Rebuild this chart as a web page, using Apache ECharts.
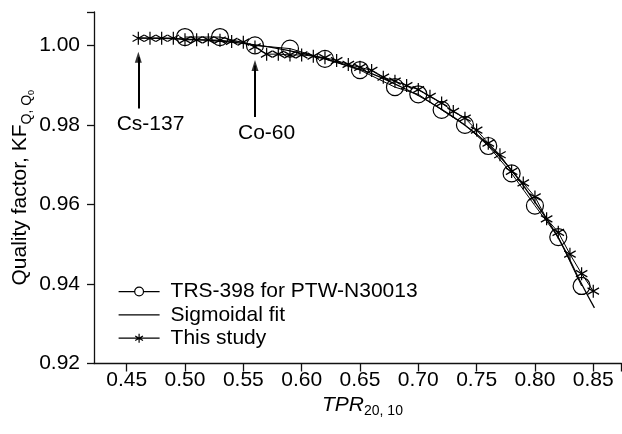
<!DOCTYPE html>
<html><head><meta charset="utf-8">
<script src="https://cdn.jsdelivr.net/npm/echarts@6/dist/echarts.min.js"></script>
<style>html,body{margin:0;padding:0;background:#fff}#chart{width:622px;height:434px}</style>
</head><body><div id="chart"></div>
<script>
// ---------- data ----------
const trsX = [0.50,0.53,0.56,0.59,0.62,0.65,0.68,0.70,0.72,0.74,0.76,0.78,0.80,0.82,0.84];
const trsY = [1.0021,1.0021,1.0000,0.9992,0.9966,0.9938,0.9895,0.9877,0.9838,0.9800,0.9747,0.9678,0.9597,0.9518,0.9395];

const studyX = [0.46,0.47,0.48,0.49,0.50,0.51,0.52,0.53,0.54,0.55,
                0.56,0.57,0.58,0.59,0.60,0.61,0.62,0.63,0.64,0.65,
                0.66,0.67,0.68,0.69,0.70,0.71,0.72,0.73,0.74,0.75,
                0.76,0.77,0.78,0.79,0.80,0.81,0.82,0.83,0.84,0.85];
const studyY = [1.0018,1.0018,1.0018,1.0018,1.0014,1.0014,1.0014,1.0013,1.0010,1.0008,
                0.9996,0.9978,0.9978,0.9976,0.9976,0.9973,0.9969,0.9962,0.9952,0.9945,
                0.9937,0.9920,0.9910,0.9899,0.9889,0.9872,0.9855,0.9834,0.9817,0.9787,
                0.9754,0.9725,0.9683,0.9654,0.9619,0.9564,0.9530,0.9475,0.9426,0.9382];

const fitX = [0.46,0.48,0.50,0.52,0.54,0.56,0.58,0.60,0.62,0.64,0.66,0.68,0.70,0.72,0.74,0.76,0.78,0.80,0.82,0.84,0.851];
const fitY = [1.0019,1.0018,1.0016,1.0013,1.0008,1.0001,0.9992,0.9980,0.9966,0.9949,0.9929,0.9903,0.9874,0.9839,0.9799,0.9750,0.9686,0.9606,0.9516,0.9400,0.9340];

const xTickLabels = [0.45,0.50,0.55,0.60,0.65,0.70,0.75,0.80,0.85];
const yTickLabels = [0.92,0.94,0.96,0.98,1.00];
const xMin = 0.422, xMax = 0.8742;
const yMin = 0.92,  yMax = 1.0084;

const arrowLabels = ['Cs-137', 'Co-60'];
const arrowX    = [0.46, 0.56];
const arrowFrom = [0.9841, 0.9820];
const arrowTo   = [0.99705, 0.99495];

const seriesNames = ['TRS-398 for PTW-N30013', 'Sigmoidal fit', 'This study'];

// ---------- helpers ----------
const FONT = "'Liberation Sans', Arial, Helvetica, sans-serif";
const ctx = document.createElement('canvas').getContext('2d');
function tw(t, size, st) { ctx.font = (st ? st + ' ' : '') + size + 'px ' + FONT; return ctx.measureText(t).width; }
function zip(a, b) { return a.map((v, i) => [v, b[i]]); }

const STAR = 'path://M0,-6 L0,6 M-5.2,-3 L5.2,3 M-5.2,3 L5.2,-3';
const ICON_TRS = 'path://M0,5 L16.1,5 M24.9,5 L41,5 M24.9,5 A4.4,4.4 0 1,1 16.1,5 A4.4,4.4 0 1,1 24.9,5';
const ICON_FIT = 'path://M0,5 L41,5 M20,1 L20,1 M20,9 L20,9';
const ICON_STAR = 'path://M0,5 L41,5 M20.5,0.5 L20.5,9.5 M16.6,2.75 L24.4,7.25 M16.6,7.25 L24.4,2.75';

// axis titles (graphic text)
const w1 = tw('Quality factor, KF', 21), w2 = tw('Q, Q', 14), w3 = tw('0', 9);
const yTitleLen = w1 + w2 + w3;
const yAxisMid = (12 + 363.5) / 2;
const tprW = tw('TPR', 21, 'italic');

const txt = (text, x, y, size, st) => ({
  type: 'text', x: x, y: y, silent: true,
  style: { text: text, font: (st ? st + ' ' : '') + size + 'px ' + FONT, fill: '#000',
           textAlign: 'left', textVerticalAlign: 'middle', align: 'left', verticalAlign: 'middle' }
});

const chart = echarts.init(document.getElementById('chart'), null, { renderer: 'canvas' });
chart.setOption({
  animation: false,
  backgroundColor: '#fff',
  textStyle: { fontFamily: FONT },
  grid: { left: 94, right: 0.5, top: 12, bottom: 70.5 },
  xAxis: {
    type: 'value', min: xMin, max: xMax,
    splitLine: { show: false },
    axisLine: { show: true, lineStyle: { color: '#111', width: 1.3 } },
    axisTick: { show: true, length: 8, lineStyle: { color: '#111', width: 1.3 },
                customValues: xTickLabels.concat([xMax]) },
    axisLabel: { customValues: xTickLabels, fontSize: 21, color: '#000', margin: 6,
                 formatter: v => v.toFixed(2) }
  },
  yAxis: {
    type: 'value', min: yMin, max: yMax,
    splitLine: { show: false },
    axisLine: { show: true, lineStyle: { color: '#111', width: 1.3 } },
    axisTick: { show: true, length: 7, lineStyle: { color: '#111', width: 1.3 },
                customValues: yTickLabels.concat([yMax]) },
    axisLabel: { customValues: yTickLabels, fontSize: 21, color: '#000', margin: 14,
                 formatter: v => v.toFixed(2) }
  },
  legend: {
    orient: 'vertical', left: 118, top: 279.9, padding: 0,
    itemWidth: 41, itemHeight: 10, itemGap: 0,
    selectedMode: false,
    textStyle: { fontSize: 21, color: '#000', lineHeight: 23.3, padding: [0, 0, 0, 6], fontFamily: FONT },
    data: [
      { name: seriesNames[0], icon: ICON_TRS, itemStyle: { color: 'rgba(0,0,0,0)', borderColor: '#000', borderWidth: 1.2 } },
      { name: seriesNames[1], icon: ICON_FIT, itemStyle: { color: 'rgba(0,0,0,0)', borderColor: '#000', borderWidth: 1.2 } },
      { name: seriesNames[2], icon: ICON_STAR, itemStyle: { color: 'rgba(0,0,0,0)', borderColor: '#000', borderWidth: 1.2 } }
    ]
  },
  series: [
    {
      name: seriesNames[1], type: 'line', data: zip(fitX, fitY), smooth: true,
      symbol: 'none', lineStyle: { color: '#000', width: 1.3 }, z: 2
    },
    {
      name: seriesNames[0], type: 'line', data: zip(trsX, trsY),
      symbol: 'circle', symbolSize: 17,
      itemStyle: { color: 'rgba(0,0,0,0)', borderColor: '#000', borderWidth: 1.2 },
      lineStyle: { color: '#000', width: 1 }, z: 3
    },
    {
      name: seriesNames[2], type: 'line', data: zip(studyX, studyY),
      symbol: STAR, symbolSize: [11.5, 13], symbolKeepAspect: false,
      itemStyle: { color: '#000', borderColor: '#000', borderWidth: 1.3 },
      lineStyle: { color: '#000', width: 1 }, z: 4,
      markLine: {
        silent: true, animation: false,
        symbol: ['none', 'none'],
        label: { show: false },
        lineStyle: { color: '#000', width: 2, type: 'solid' },
        data: arrowX.map((x, i) => [{ coord: [x, arrowFrom[i]] }, { coord: [x, arrowTo[i]] }])
      }
    },
    {
      name: 'arrowheads', type: 'scatter', data: zip(arrowX, arrowTo),
      symbol: 'triangle', symbolSize: [7, 11], silent: true,
      itemStyle: { color: '#000' }, z: 5
    }
  ],
  graphic: [
    { type: 'group', x: 20.7, y: yAxisMid + yTitleLen / 2, rotation: Math.PI / 2, silent: true,
      children: [
        txt('Quality factor, KF', 0, 0, 21),
        txt('Q, Q', w1, 6.5, 14),
        txt('0', w1 + w2, 10.5, 9)
      ] },
    txt('TPR', 322, 404.7, 21, 'italic'),
    txt('20, 10', 322 + tprW, 411.2, 14),
    txt(arrowLabels[0], 116.7, 124.3, 21),
    txt(arrowLabels[1], 238, 133.5, 21)
  ]
});
</script></body></html>
